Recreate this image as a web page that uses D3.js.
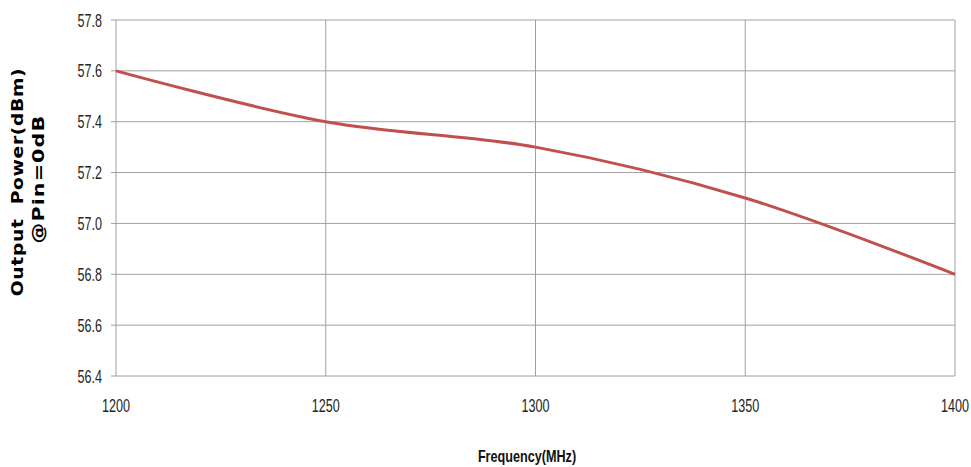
<!DOCTYPE html>
<html>
<head>
<meta charset="utf-8">
<script src="https://cdn.jsdelivr.net/npm/d3@7"></script>
<style>
body { margin: 0; background: #fff; }
</style>
</head>
<body>
<div id="chart"></div>
<script>
var freq = [1200, 1250, 1300, 1350, 1400];
var power = [57.6, 57.4, 57.3, 57.1, 56.8];
var yTicks = [56.4, 56.6, 56.8, 57.0, 57.2, 57.4, 57.6, 57.8];
var xTicks = [1200, 1250, 1300, 1350, 1400];

var margin = {top: 20, right: 16, bottom: 91, left: 116},
    width = 971 - margin.left - margin.right,
    height = 467 - margin.top - margin.bottom;

var svg = d3.select("#chart")
  .append("svg")
  .attr("width", 971)
  .attr("height", 467);

var chartgroup = svg.append("g")
  .attr("transform", "translate(" + margin.left + "," + margin.top + ")");

var x = d3.scaleLinear().domain([1200, 1400]).range([0, width]);
var y = d3.scaleLinear().domain([56.4, 57.8]).range([height, 0]);

var tickFont = "'Liberation Sans', Arial, sans-serif";

// grid lines
chartgroup.append("g")
  .selectAll("line")
  .data(yTicks)
  .enter()
  .append("line")
  .attr("x1", -5)
  .attr("x2", width)
  .attr("y1", d => y(d))
  .attr("y2", d => y(d))
  .attr("stroke", "#a0a0a0")
  .attr("stroke-width", 1);

chartgroup.append("g")
  .selectAll("line")
  .data(xTicks)
  .enter()
  .append("line")
  .attr("x1", d => x(d))
  .attr("x2", d => x(d))
  .attr("y1", 0)
  .attr("y2", height)
  .attr("stroke", "#a0a0a0")
  .attr("stroke-width", 1);

// y tick labels (narrow look, squeezed horizontally)
chartgroup.append("g")
  .selectAll("text")
  .data(yTicks)
  .enter()
  .append("text")
  .attr("transform", d => "translate(-14," + (y(d) + 6.5) + ")scale(0.7,1)")
  .attr("text-anchor", "end")
  .style("font-family", tickFont)
  .style("font-size", "18px")
  .style("fill", "#262626")
  .text(d => d.toFixed(1));

// x tick labels
chartgroup.append("g")
  .selectAll("text")
  .data(xTicks)
  .enter()
  .append("text")
  .attr("transform", d => "translate(" + x(d) + "," + (height + 35.5) + ")scale(0.7,1)")
  .attr("text-anchor", "middle")
  .style("font-family", tickFont)
  .style("font-size", "18px")
  .style("fill", "#262626")
  .text(d => d);

// line
var line = d3.line()
  .x((d, i) => x(freq[i]))
  .y(d => y(d))
  .curve(d3.curveCardinal.tension(0));

chartgroup.append("path")
  .datum(power)
  .attr("d", line)
  .attr("fill", "none")
  .attr("stroke", "#c0504d")
  .attr("stroke-width", 3);

// titles
svg.append("text")
  .attr("transform", "translate(23, 182)rotate(-90)scale(1.25,1)")
  .attr("text-anchor", "middle")
  .style("font-family", "'DejaVu Sans', Verdana, sans-serif")
  .style("font-weight", "bold")
  .style("font-size", "15px")
  .style("letter-spacing", "0.5px")
  .style("white-space", "pre")
  .text("Output  Power(dBm)");

svg.append("text")
  .attr("transform", "translate(44, 179)rotate(-90)scale(1.38,1)")
  .attr("text-anchor", "middle")
  .style("font-family", "'DejaVu Sans', Verdana, sans-serif")
  .style("font-weight", "bold")
  .style("font-size", "15px")
  .style("letter-spacing", "0.8px")
  .text("@Pin=0dB");

svg.append("text")
  .attr("transform", "translate(527, 462)scale(0.79,1)")
  .attr("text-anchor", "middle")
  .style("font-family", tickFont)
  .style("font-weight", "bold")
  .style("font-size", "16px")
  .style("fill", "#111")
  .text("Frequency(MHz)");
</script>
</body>
</html>
